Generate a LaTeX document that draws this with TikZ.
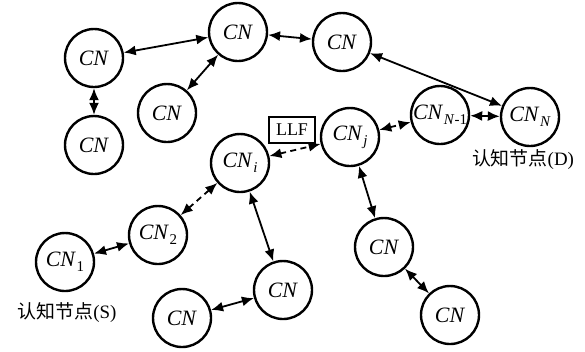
\documentclass[tikz,border=0pt]{standalone}
\usepackage{fontspec}
\setmainfont{Liberation Serif}
\newfontfamily\cjk{Noto Sans CJK SC}
\usetikzlibrary{arrows.meta}
\newcommand{\cnsub}[1]{\textit{CN}\kern0.3pt\raisebox{-0.5ex}{\fontsize{7.5}{8}\selectfont #1}}
\tikzset{
cnnode/.style={circle,draw,line width=1.2bp,minimum size=29bp,inner sep=0pt,font=\fontsize{11}{12}\selectfont},
link/.style={line width=0.9bp,{Latex[length=6bp,width=5bp]}-{Latex[length=6bp,width=5bp]}},
dlink/.style={link,dash pattern=on 3bp off 2.2bp},
}
\begin{document}
\begin{tikzpicture}[x=0.5bp,y=-0.5bp]
\useasboundingbox (0,0) rectangle (585,351);
\node[cnnode] (a) at (94,58) {\textit{CN}};
\node[cnnode] (b) at (94,145) {\textit{CN}};
\node[cnnode] (c) at (238,32) {\textit{CN}};
\node[cnnode] (d) at (167,113) {\textit{CN}};
\node[cnnode] (e) at (342,42) {\textit{CN}};

\node[cnnode] (cni) at (240,163) {\cnsub{\textit{i}}};
\node[cnnode] (cnj) at (350,137) {\cnsub{\textit{j}}};
\node[cnnode] (cnn1) at (440,115) {\cnsub{\textit{N}-1}};
\node[cnnode] (cnn) at (530,117) {\cnsub{\textit{N}}};
\node[draw,line width=0.8bp,minimum width=23bp,minimum height=13bp,inner sep=1pt,font=\fontsize{9}{10}\selectfont] (llf) at (292,130) {LLF};

\node[cnnode] (cn2) at (158,235) {\cnsub{2}};
\node[cnnode] (cn1) at (65,262) {\cnsub{1}};
\node[cnnode] (f) at (283,290) {\textit{CN}};
\node[cnnode] (g) at (182,318) {\textit{CN}};
\node[cnnode] (h) at (384,247) {\textit{CN}};
\node[cnnode] (i) at (450,315) {\textit{CN}};

\node[font=\fontsize{9.5}{11}\selectfont] (labd) at (523,160) {{\cjk 认知节点}(D)};
\node[font=\fontsize{9.5}{11}\selectfont] (labs) at (67,313) {{\cjk 认知节点}(S)};

\draw[link] (a) -- (c);
\draw[link] (a) -- (b);
\draw[link] (d) -- (c);
\draw[link] (c) -- (e);
\draw[link] (e) -- (cnn);
\draw[link] (cnn1) -- (cnn);
\draw[dlink] (cnj) -- (cnn1);
\draw[dlink] (cni) -- (cnj);
\draw[dlink] (cni) -- (cn2);
\draw[link] (cn2) -- (cn1);
\draw[link] (cni) -- (f);
\draw[link] (f) -- (g);
\draw[link] (cnj) -- (h);
\draw[link] (h) -- (i);
\end{tikzpicture}
\end{document}
